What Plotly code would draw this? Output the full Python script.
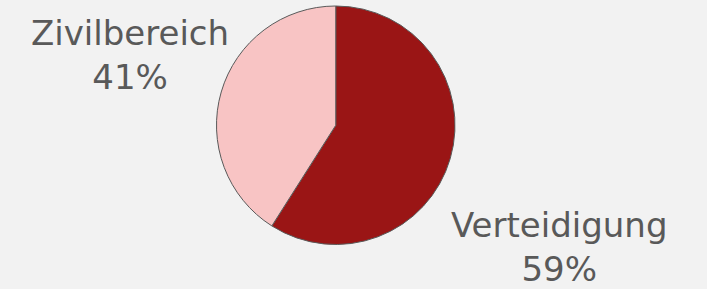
import plotly.graph_objects as go

labels = ["Verteidigung", "Zivilbereich"]
values = [59, 41]

colors = ["#9a1515", "#f8c4c4"]
label_pos = [(0.792, 0.145), (0.184, 0.81)]

total = sum(values)

fig = go.Figure(
    go.Pie(
        labels=labels,
        values=values,
        sort=False,
        direction="clockwise",
        rotation=0,
        textinfo="none",
        hoverinfo="label+percent",
        marker=dict(colors=colors, line=dict(color="#595959", width=1)),
        domain=dict(x=[216.5 / 707, 455 / 707], y=[44.25 / 289, 283.25 / 289]),
        showlegend=False,
    )
)

for lab, val, (x, y) in zip(labels, values, label_pos):
    fig.add_annotation(
        x=x, y=y, xref="paper", yref="paper",
        text=f"{lab}<br>{round(100 * val / total)}%",
        showarrow=False, xanchor="center", yanchor="middle", align="center",
        font=dict(family="DejaVu Sans", size=34, color="#595959"),
    )

fig.update_layout(
    width=707, height=289,
    margin=dict(l=0, r=0, t=0, b=0),
    paper_bgcolor="#f2f2f2",
    plot_bgcolor="#f2f2f2",
)

fig.write_html(
    "out.html",
    config={"displayModeBar": False},
    post_script="document.body.style.margin='0';document.body.style.background='#f2f2f2';",
)
